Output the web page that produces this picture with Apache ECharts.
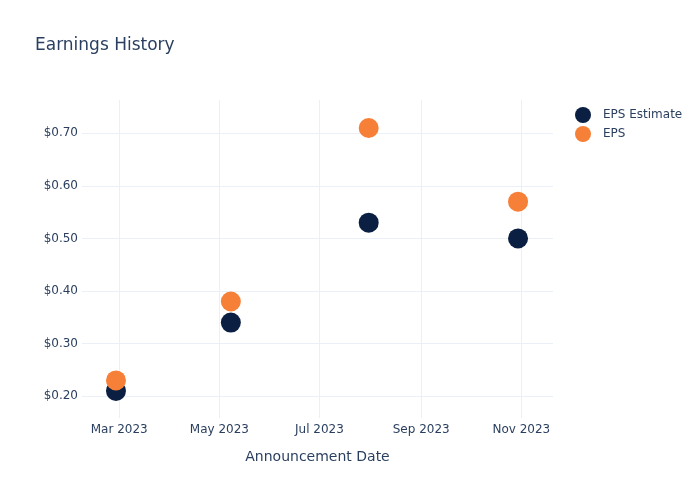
<!DOCTYPE html>
<html>
<head>
<meta charset="utf-8">
<script src="https://cdn.jsdelivr.net/npm/echarts@6/dist/echarts.min.js"></script>
<style>html,body{margin:0;padding:0;background:#fff}#c{width:700px;height:500px}</style>
</head>
<body>
<div id="c"></div>
<script>
const dates = ['2023-02-27', '2023-05-08', '2023-07-31', '2023-10-30'];
const epsEstimate = [0.21, 0.34, 0.53, 0.50];
const eps = [0.23, 0.38, 0.71, 0.57];
const xTickDates = ['2023-03-01', '2023-05-01', '2023-07-01', '2023-09-01', '2023-11-01'];
const yTicks = [0.2, 0.3, 0.4, 0.5, 0.6, 0.7];
const monthNames = ['Jan','Feb','Mar','Apr','May','Jun','Jul','Aug','Sep','Oct','Nov','Dec'];

function toTs(s) { const p = s.split('-').map(Number); return Date.UTC(p[0], p[1]-1, p[2]); }
const xTicks = xTickDates.map(toTs);
const font = '"DejaVu Sans", sans-serif';
const txt = '#2a3f5f';

const chart = echarts.init(document.getElementById('c'), null, {renderer: 'canvas'});
chart.setOption({
  animation: false,
  backgroundColor: '#fff',
  textStyle: {fontFamily: font, color: txt},
  title: {
    text: 'Earnings History', left: 30, top: 32,
    textStyle: {fontFamily: font, fontSize: 17, fontWeight: 'normal', color: txt}
  },
  legend: {
    orient: 'vertical', left: 570, top: 102, itemGap: 3,
    itemWidth: 16, itemHeight: 16, icon: 'circle',
    textStyle: {fontFamily: font, fontSize: 12, color: txt, padding: [0, 0, 0, 7]},
    data: ['EPS Estimate', 'EPS']
  },
  grid: {left: 82, right: 147, top: 100, bottom: 82, containLabel: false},
  xAxis: {
    type: 'value',
    min: toTs('2023-02-06') + 0.3 * 86400000,
    max: toTs('2023-11-20') + 0.3 * 86400000,
    name: 'Announcement Date', nameLocation: 'middle', nameGap: 32,
    nameTextStyle: {fontFamily: font, fontSize: 14, color: txt},
    axisLine: {show: false},
    axisTick: {show: false, customValues: xTicks},
    axisLabel: {
      customValues: xTicks, color: txt, fontSize: 12, fontFamily: font, margin: 6,
      formatter: function (v) { const d = new Date(v); return monthNames[d.getUTCMonth()] + ' ' + d.getUTCFullYear(); }
    },
    splitLine: {show: true, lineStyle: {color: '#ebf0f8', width: 1}}
  },
  yAxis: {
    type: 'value', min: 0.1585, max: 0.7633,
    axisLine: {show: false},
    axisTick: {show: false, customValues: yTicks},
    axisLabel: {
      customValues: yTicks, color: txt, fontSize: 12, fontFamily: font, margin: 4,
      formatter: function (v) { return '$' + v.toFixed(2); }
    },
    splitLine: {show: true, lineStyle: {color: '#ebf0f8', width: 1}}
  },
  series: [
    {
      name: 'EPS Estimate', type: 'scatter', symbolSize: 20,
      itemStyle: {color: '#0b1f42', opacity: 1},
      data: dates.map((d, i) => [toTs(d), epsEstimate[i]])
    },
    {
      name: 'EPS', type: 'scatter', symbolSize: 20,
      itemStyle: {color: '#f68038', opacity: 1},
      data: dates.map((d, i) => [toTs(d), eps[i]])
    }
  ]
});
</script>
</body>
</html>
